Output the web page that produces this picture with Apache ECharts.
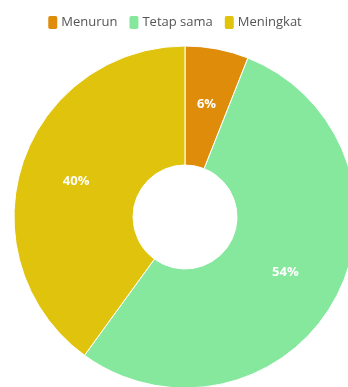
<!DOCTYPE html>
<html>
<head>
<meta charset="utf-8">
<script src="https://cdn.jsdelivr.net/npm/echarts@6/dist/echarts.min.js"></script>
<style>
  html, body { margin: 0; padding: 0; background: #fff; }
  #chart { width: 348px; height: 387px; }
</style>
</head>
<body>
<div id="chart"></div>
<script>
// data
const categories = ['Menurun', 'Tetap sama', 'Meningkat'];
const values = [6, 54, 40];
const colors = ['#e08c0b', '#86e89d', '#e0c30d'];

const chart = echarts.init(document.getElementById('chart'));
chart.setOption({
  animation: false,
  color: colors,
  legend: {
    top: 9,
    left: 'center',
    itemWidth: 11,
    itemHeight: 15,
    itemGap: 10,
    icon: 'roundRect',
    textStyle: { color: '#555', fontSize: 13, fontFamily: 'Open Sans', padding: [0, 0, 0, -2] },
    data: categories
  },
  series: [{
    type: 'pie',
    center: [185, 217],
    radius: [52, 171],
    startAngle: 90,
    clockwise: true,
    itemStyle: { borderColor: '#fff', borderWidth: 1 },
    label: {
      position: 'inside',
      formatter: '{c}%',
      color: '#fff',
      fontWeight: 'bold',
      fontSize: 13,
      fontFamily: 'Open Sans'
    },
    labelLine: { show: false },
    data: categories.map((name, i) => ({ name: name, value: values[i] }))
  }]
});
</script>
</body>
</html>
